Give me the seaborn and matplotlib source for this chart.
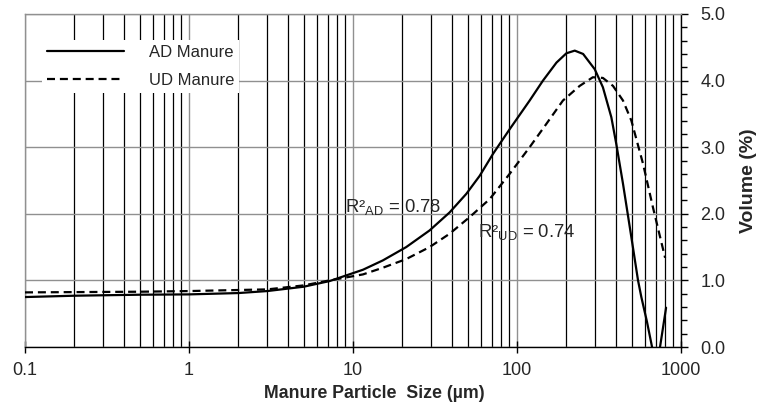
import matplotlib
matplotlib.use("Agg")
import matplotlib.pyplot as plt
import matplotlib.ticker as mticker
import seaborn as sns
import pandas as pd
import numpy as np

# ---- data ----
ad_size = [0.1, 0.2, 0.5, 1, 2, 3, 5, 7.2, 11.5, 15.2, 21.1, 29.3, 38.8, 49.1, 59.2, 71.4, 90.2,
           119.4, 144, 174, 200, 225, 253, 298, 334, 376, 403, 443, 498, 547, 573, 620, 666,
           705, 745, 811]
ad_vol = [0.75, 0.77, 0.785, 0.79, 0.81, 0.84, 0.905, 0.99, 1.16, 1.30, 1.50, 1.75, 2.02, 2.30, 2.57,
          2.90, 3.27, 3.70, 4.00, 4.27, 4.41, 4.45, 4.40, 4.17, 3.90, 3.45, 3.05, 2.45, 1.65, 1.00,
          0.75, 0.38, 0.00, -0.25, 0.00, 0.59]

ud_size = [0.1, 0.5, 1, 3, 5, 7.2, 11.5, 15.2, 21.1, 29.3, 38.8, 51.4, 68.1, 90.2, 119.4, 151,
           190.5, 241, 290, 334, 385, 443, 498, 587, 674, 800]
ud_vol = [0.82, 0.83, 0.84, 0.865, 0.925, 1.00, 1.09, 1.19, 1.32, 1.50, 1.70, 1.95, 2.22, 2.60, 3.00,
          3.35, 3.70, 3.92, 4.05, 4.04, 3.92, 3.70, 3.40, 2.75, 2.10, 1.34]

series_labels = ["AD Manure", "UD Manure"]
x_ticks = [0.1, 1, 10, 100, 1000]
x_ticklabels = ["0.1", "1", "10", "100", "1000"]
r2_labels = [r"R²$_{\mathrm{AD}}$ = 0.78", r"R²$_{\mathrm{UD}}$ = 0.74"]
r2_pos = [(8.9, 2.03), (57.8, 1.65)]

df = pd.concat([
    pd.DataFrame({"size": ad_size, "vol": ad_vol, "series": series_labels[0]}),
    pd.DataFrame({"size": ud_size, "vol": ud_vol, "series": series_labels[1]}),
])

sns.set_style("white")
plt.rcParams["font.family"] = ["Liberation Sans", "DejaVu Sans"]
plt.rcParams["mathtext.fontset"] = "custom"
plt.rcParams["mathtext.rm"] = "Liberation Sans"
plt.rcParams["mathtext.it"] = "Liberation Sans:italic"
plt.rcParams["mathtext.bf"] = "Liberation Sans:bold"

fig = plt.figure(figsize=(7.58, 4.04), dpi=100)
ax = fig.add_axes([25 / 758, 57 / 404, 656 / 758, 333 / 404])

grey = "#909090"
sns.lineplot(data=df, x="size", y="vol", hue="series", style="series",
             palette=["black", "black"], dashes=[(None, None), (3.6, 2.2)],
             linewidth=1.6, ax=ax, sort=False, estimator=None, zorder=5)
for ln in ax.get_lines():
    ln.set_solid_joinstyle("round")

ax.set_xscale("log")
ax.set_xlim(0.1, 1000)
ax.set_ylim(0, 5)

ax.xaxis.set_major_locator(mticker.FixedLocator(x_ticks))
ax.xaxis.set_major_formatter(mticker.FixedFormatter(x_ticklabels))
ax.xaxis.set_minor_locator(mticker.LogLocator(base=10, subs=np.arange(2, 10)))
ax.xaxis.set_minor_formatter(mticker.NullFormatter())
ax.yaxis.set_major_locator(mticker.MultipleLocator(1.0))
ax.yaxis.set_minor_locator(mticker.MultipleLocator(0.2))
ax.yaxis.set_major_formatter(mticker.FormatStrFormatter("%.1f"))

ax.yaxis.tick_right()
ax.yaxis.set_label_position("right")

ax.grid(which="minor", axis="x", color="black", linewidth=0.9, zorder=1)
ax.grid(which="major", axis="x", color=grey, linewidth=1.0, zorder=1)
ax.grid(which="major", axis="y", color=grey, linewidth=1.0, zorder=1)
ax.set_axisbelow(True)

ax.tick_params(axis="x", which="major", direction="inout", length=8, width=1,
               color="black", labelsize=13, pad=7, bottom=True)
ax.tick_params(axis="x", which="minor", length=0)
ax.tick_params(axis="y", which="major", direction="out", length=5, width=1,
               color="black", labelsize=13, pad=9, right=True, left=False)
ax.tick_params(axis="y", which="minor", direction="out", length=4, width=1,
               color="black", right=True, left=False)

for s in ["top", "left"]:
    ax.spines[s].set_color(grey)
    ax.spines[s].set_linewidth(1.0)
for s in ["bottom", "right"]:
    ax.spines[s].set_color("black")
    ax.spines[s].set_linewidth(1.0)

ax.set_xlabel("Manure Particle  Size (µm)", fontsize=12.8, fontweight="bold")
ax.xaxis.set_label_coords(0.532, -0.115)
ax.set_ylabel("Volume (%)", fontsize=14, fontweight="bold")
ax.yaxis.set_label_coords(1.0 + 59 / 656, 0.5)

for lbl, (px, py) in zip(r2_labels, r2_pos):
    ax.text(px, py, lbl, fontsize=13.3, va="baseline", ha="left", zorder=6)

handles, labels = ax.get_legend_handles_labels()
leg = ax.legend(handles, labels, loc="upper left", bbox_to_anchor=(0.026, 0.922),
                fontsize=12, frameon=True, fancybox=False, framealpha=1,
                edgecolor="white", handlelength=4.6, handletextpad=1.5,
                labelspacing=0.8, borderpad=0.3, borderaxespad=0)
leg.get_frame().set_linewidth(0)
leg.set_zorder(4)

fig.savefig("out.png", dpi=100)
